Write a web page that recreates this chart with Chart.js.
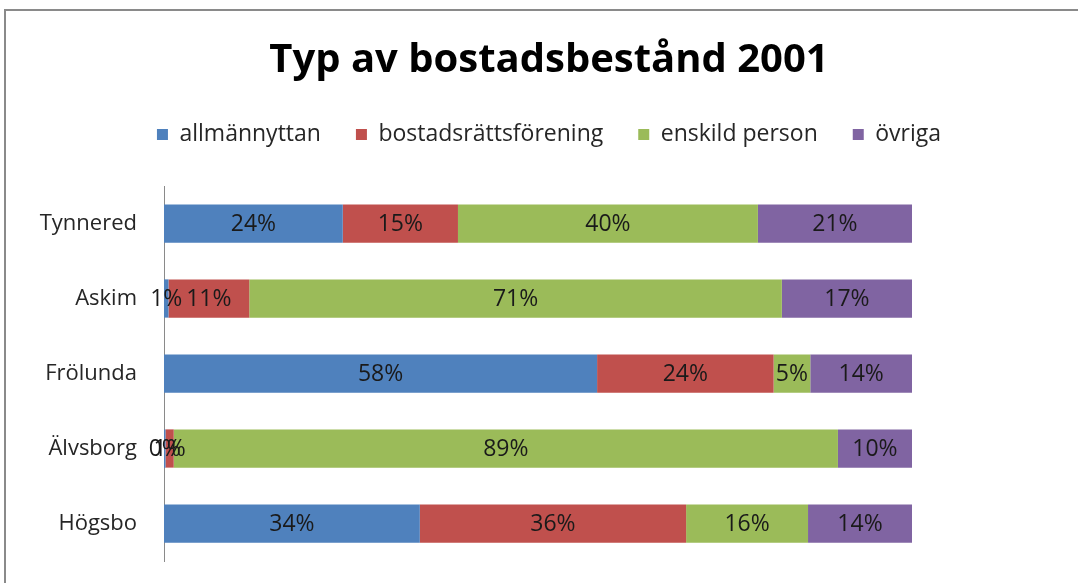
<!DOCTYPE html>
<html>
<head>
<meta charset="utf-8">
<script src="https://cdn.jsdelivr.net/npm/chart.js@4"></script>
<style>
  body { margin: 0; background: #fff; }
  #wrap { position: relative; width: 1078px; height: 583px; }
  #frame {
    position: absolute; left: 4px; top: 9px; right: -10px; bottom: -10px;
    border-left: 2px solid #8a8a8a; border-top: 2px solid #8a8a8a;
    pointer-events: none;
  }
</style>
</head>
<body>
<div id="wrap">
  <canvas id="chart" width="1078" height="583"></canvas>
  <div id="frame"></div>
</div>
<script>
const areas = ["Tynnered", "Askim", "Frölunda", "Älvsborg", "Högsbo"];
const allmannyttan = [23.9, 0.6, 57.9, 0.2, 34.2];
const bostadsratt = [15.4, 10.8, 23.6, 1.1, 35.6];
const enskild = [40.1, 71.2, 4.9, 88.8, 16.3];
const ovriga = [20.6, 17.4, 13.6, 9.9, 13.9];

const fontName = "'Open Sans'";

// labels in the middle of each segment, like the excel data labels
const segmentLabels = {
  id: "segmentLabels",
  afterDatasetsDraw(chart) {
    const ctx = chart.ctx;
    ctx.save();
    ctx.font = `23px ${fontName}`;
    ctx.fillStyle = "#1a1a1a";
    ctx.textAlign = "center";
    ctx.textBaseline = "middle";
    chart.data.datasets.forEach((ds, i) => {
      const meta = chart.getDatasetMeta(i);
      meta.data.forEach((bar, j) => {
        const x = (bar.x + bar.base) / 2;
        ctx.fillText(Math.round(ds.data[j]) + "%", x, bar.y + 1);
      });
    });
    ctx.restore();
  },
};

// empty axes used only as spacers
const spacer = (pos, size) => ({
  type: "linear",
  position: pos,
  grid: { display: false, drawTicks: false },
  border: { display: false },
  ticks: { display: false },
  afterFit(scale) {
    if (pos === "top" || pos === "bottom") scale.height = size;
    else scale.width = size;
  },
});

const ctx = document.getElementById("chart").getContext("2d");
new Chart(ctx, {
  type: "bar",
  data: {
    labels: areas,
    datasets: [
      { label: "allmännyttan", data: allmannyttan, backgroundColor: "#4F81BD" },
      { label: "bostadsrättsförening", data: bostadsratt, backgroundColor: "#C0504D" },
      { label: "enskild person", data: enskild, backgroundColor: "#9BBB59" },
      { label: "övriga", data: ovriga, backgroundColor: "#8064A2" },
    ],
  },
  options: {
    indexAxis: "y",
    responsive: false,
    animation: false,
    barPercentage: 0.51,
    categoryPercentage: 1,
    layout: {
      autoPadding: false,
      padding: { left: 20, right: 0, top: 20, bottom: 22 },
    },
    scales: {
      x: { stacked: true, min: 0, max: 100, display: false },
      y: {
        stacked: true,
        grid: { display: false, drawTicks: false },
        border: { display: true, color: "#8a8a8a", width: 1 },
        ticks: {
          padding: 27,
          color: "#262626",
          font: { family: fontName, size: 22 },
        },
        afterFit(scale) {
          scale.width = 144;
          // tick padding would otherwise eat space under the plot
          scale.paddingTop = 0;
          scale.paddingBottom = 0;
        },
      },
      xTop: Object.assign(spacer("top", 30), { axis: "x" }),
      yRight: Object.assign(spacer("right", 166), { axis: "y" }),
    },
    plugins: {
      title: {
        display: true,
        text: "Typ av bostadsbestånd 2001",
        color: "#000",
        font: { family: fontName, size: 40, weight: "bold" },
        padding: { top: 17, bottom: 3 },
      },
      legend: {
        display: true,
        labels: {
          color: "#262626",
          font: { family: fontName, size: 23 },
          boxWidth: 11,
          boxHeight: 11,
          padding: 35,
        },
      },
      tooltip: { enabled: false },
    },
  },
  plugins: [segmentLabels],
});
</script>
</body>
</html>
